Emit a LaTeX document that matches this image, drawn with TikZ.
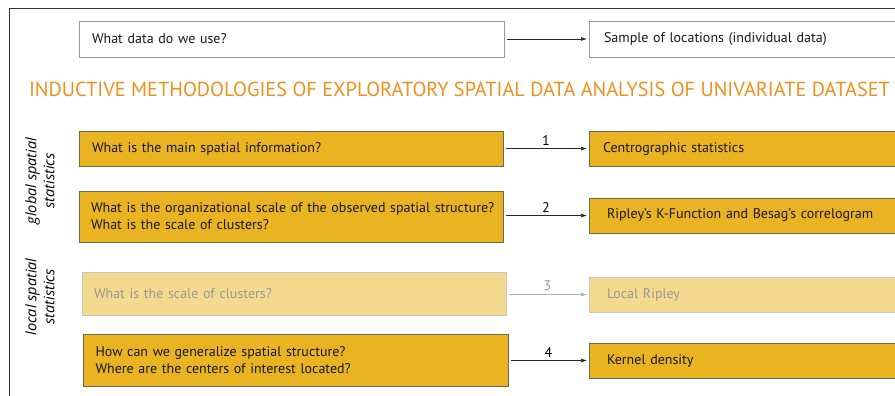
\documentclass[tikz,border=0pt]{standalone}
\usepackage{fontspec}
\setmainfont{PT Sans}
\newfontfamily\sidefont{Open Sans}
\usetikzlibrary{arrows.meta}
\definecolor{gold}{HTML}{EAB322}
\definecolor{goldline}{HTML}{6E6A50}
\definecolor{lightgold}{HTML}{F3DA8F}
\definecolor{lightline}{HTML}{C8C8C0}
\definecolor{lighttext}{HTML}{9A9A94}
\definecolor{titleorange}{HTML}{F0901A}
\definecolor{frame}{HTML}{333333}
\tikzset{
  every node/.style={font=\fontsize{14}{17}\selectfont, inner sep=0pt, outer sep=0pt},
  qbox/.style={draw=goldline, fill=gold, line width=0.9pt, anchor=north west, align=left, text=black!90},
  whitebox/.style={draw=black!40, fill=white, line width=0.9pt, anchor=north west, align=left, text=black!90},
  faintbox/.style={draw=lightline, fill=lightgold, line width=0.9pt, anchor=north west, align=left, text=lighttext},
  conn/.style={-{Latex[length=6pt,width=4pt]}, line width=0.7pt, draw=black!85, shorten <=3pt, shorten >=2pt},
  faintconn/.style={conn, draw=black!30},
  numlabel/.style={above=3.5pt, text=black},
  sidelabel/.style={rotate=90, align=center, font=\sidefont\itshape\fontsize{14.5}{18}\selectfont},
}
\begin{document}
\begin{tikzpicture}[x=1pt,y=-1pt]
\useasboundingbox (0,0) rectangle (895,396);
\begin{scope}
\clip (0,0) rectangle (895,396);
\draw[frame, line width=1.4pt] (9.5,420) -- (9.5,8.3) -- (920,8.3);

% row 0
\node[whitebox, minimum width=425pt, minimum height=36pt, text width=399pt, inner xsep=13pt] (q0) at (79,21) {What data do we use?};
\node[whitebox, minimum width=330pt, minimum height=36pt, text width=300pt, inner xsep=13pt] (a0) at (589,21) {Sample of locations (individual data)};
\draw[conn] (q0.east) -- (a0.west);

% title
\node[text=titleorange, font=\fontsize{20.3}{24}\selectfont, anchor=base] (title) at (459.5,97) {INDUCTIVE METHODOLOGIES OF EXPLORATORY SPATIAL DATA ANALYSIS OF UNIVARIATE DATASET};

% row 1
\node[qbox, minimum width=424pt, minimum height=35pt, text width=398pt, inner xsep=13pt] (q1) at (79,131) {What is the main spatial information?};
\node[qbox, minimum width=330pt, minimum height=35pt, text width=302pt, inner xsep=14pt] (a1) at (589,131) {Centrographic statistics};
\draw[conn] (q1.east |- a1.west) -- node[numlabel] (n1) {1} (a1.west);

% row 2
\node[qbox, minimum width=424pt, minimum height=51pt, text width=400pt, inner xsep=12pt] (q2) at (79,191) {\mbox{What is the organizational scale of the observed spatial structure?}\\\mbox{What is the scale of clusters?}};
\node[qbox, minimum width=330pt, minimum height=35pt, text width=300pt, inner xsep=18pt] (a2) at (589,198) {Ripley's K-Function and Besag's correlogram};
\draw[conn] (q2.east |- a2.west) -- node[numlabel] (n2) {2} (a2.west);

% row 3
\node[faintbox, minimum width=424pt, minimum height=43pt, text width=400pt, inner xsep=11pt] (q3) at (82,272) {What is the scale of clusters?};
\node[faintbox, minimum width=330pt, minimum height=35pt, text width=300pt, inner xsep=18pt] (a3) at (589,277) {Local Ripley};
\draw[faintconn] (q3.east |- a3.west) -- node[numlabel, text=lighttext] (n3) {3} (a3.west);

% row 4
\node[qbox, minimum width=425pt, minimum height=52pt, text width=400pt, inner xsep=10pt] (q4) at (83,334) {How can we generalize spatial structure?\\Where are the centers of interest located?};
\node[qbox, minimum width=330pt, minimum height=35pt, text width=300pt, inner xsep=18pt] (a4) at (589,343) {Kernel density};
\draw[conn] (q4.east |- a4.west) -- node[numlabel] (n4) {4} (a4.west);
\end{scope}

% side labels
\node[sidelabel] (g) at (40,181) {global spatial\\statistics};
\node[sidelabel] (l) at (40,297) {local spatial\\statistics};
\end{tikzpicture}
\end{document}
